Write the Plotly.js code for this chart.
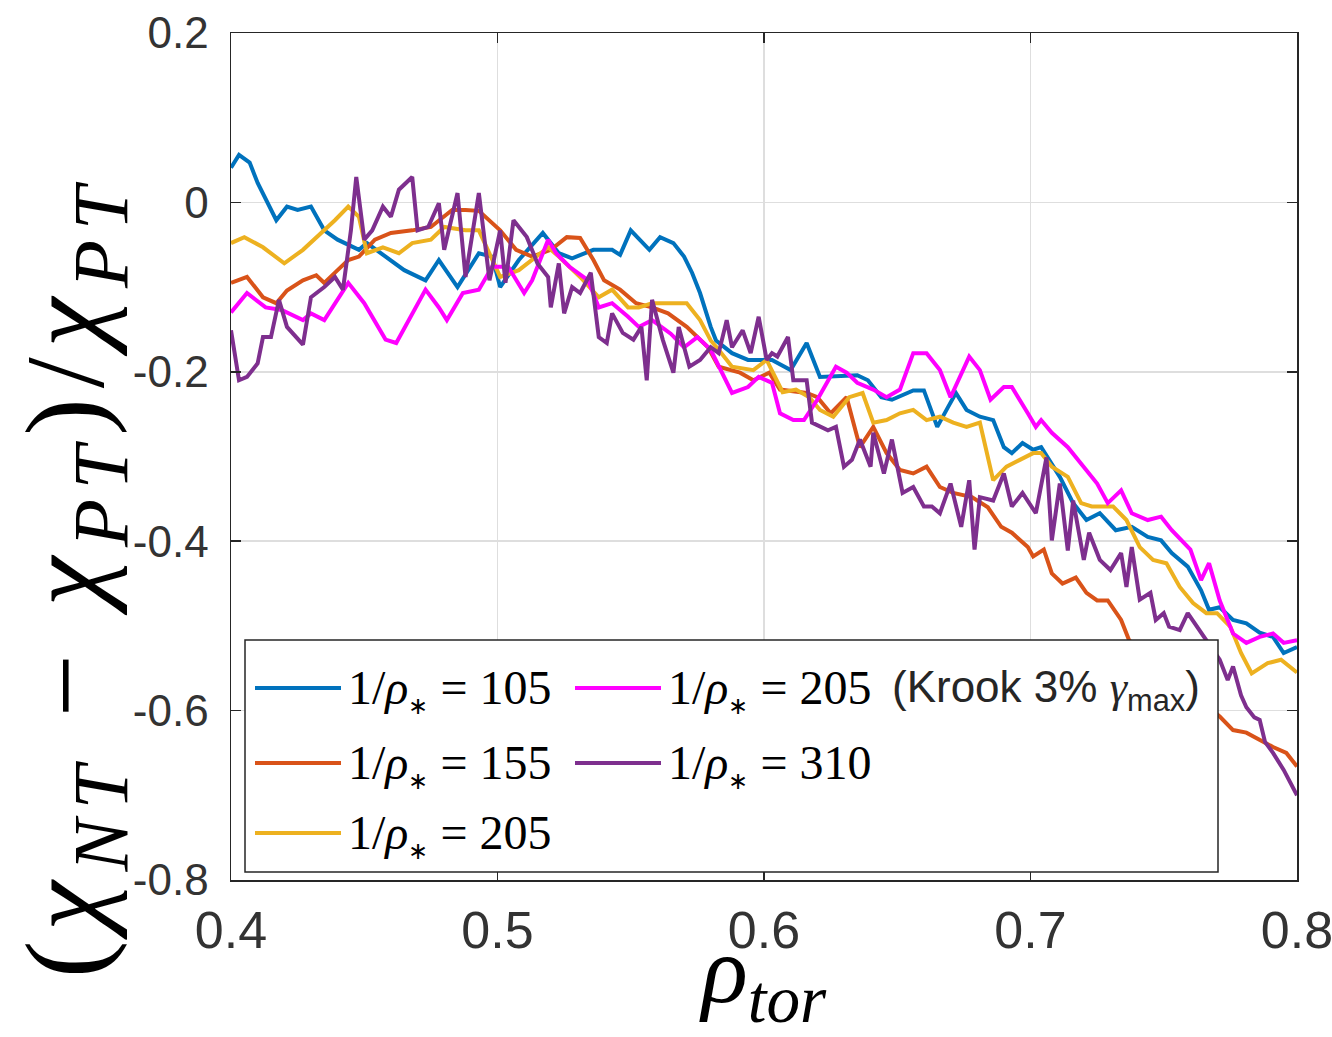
<!DOCTYPE html>
<html>
<head>
<meta charset="utf-8">
<script src="https://cdn.plot.ly/plotly-3.0.1.min.js"></script>
<style>
  html, body { margin: 0; padding: 0; background: #ffffff; }
  #chart { width: 1332px; height: 1037px; }
</style>
</head>
<body>
<div id="chart"></div>
<script>
// Relative heat diffusivity difference, negative vs positive triangularity,
// against toroidal radius for several values of 1/rho_*.

// 1/rho_* = 105
const rho105 = [0.400,0.403,0.407,0.410,0.417,0.421,0.425,0.430,0.435,0.440,0.448,0.451,0.465,0.473,0.478,0.485,0.493,0.498,0.501,0.508,0.517,0.523,0.528,0.536,0.543,0.546,0.550,0.557,0.561,0.566,0.570,0.573,0.576,0.580,0.582,0.588,0.594,0.603,0.610,0.616,0.621,0.635,0.639,0.644,0.648,0.656,0.660,0.665,0.669,0.672,0.676,0.681,0.686,0.690,0.693,0.697,0.701,0.704,0.711,0.716,0.721,0.726,0.732,0.738,0.744,0.749,0.753,0.759,0.764,0.767,0.771,0.776,0.781,0.786,0.791,0.795,0.800];
const chi105 = [0.041,0.056,0.047,0.023,-0.021,-0.005,-0.009,-0.005,-0.033,-0.044,-0.056,-0.048,-0.080,-0.092,-0.068,-0.100,-0.060,-0.064,-0.100,-0.068,-0.036,-0.060,-0.066,-0.056,-0.056,-0.062,-0.033,-0.056,-0.041,-0.048,-0.064,-0.083,-0.107,-0.147,-0.163,-0.178,-0.186,-0.186,-0.198,-0.166,-0.206,-0.204,-0.210,-0.230,-0.233,-0.222,-0.222,-0.265,-0.242,-0.225,-0.245,-0.253,-0.257,-0.289,-0.296,-0.284,-0.292,-0.289,-0.324,-0.355,-0.375,-0.367,-0.387,-0.383,-0.395,-0.399,-0.414,-0.430,-0.458,-0.481,-0.478,-0.493,-0.497,-0.508,-0.513,-0.532,-0.525];

// 1/rho_* = 155
const rho155 = [0.400,0.406,0.412,0.417,0.421,0.427,0.432,0.435,0.440,0.444,0.448,0.454,0.460,0.468,0.475,0.483,0.488,0.493,0.501,0.507,0.513,0.520,0.526,0.531,0.536,0.540,0.546,0.552,0.558,0.564,0.571,0.579,0.583,0.591,0.596,0.602,0.606,0.616,0.620,0.625,0.631,0.636,0.641,0.646,0.651,0.656,0.661,0.666,0.671,0.678,0.684,0.689,0.693,0.699,0.701,0.705,0.708,0.712,0.717,0.721,0.725,0.729,0.734,0.737,0.771,0.776,0.781,0.786,0.791,0.796,0.800];
const chi155 = [-0.095,-0.088,-0.112,-0.119,-0.104,-0.092,-0.086,-0.095,-0.080,-0.068,-0.064,-0.044,-0.036,-0.033,-0.029,-0.009,-0.009,-0.010,-0.033,-0.056,-0.064,-0.056,-0.041,-0.042,-0.068,-0.092,-0.103,-0.119,-0.124,-0.131,-0.147,-0.171,-0.194,-0.201,-0.210,-0.201,-0.221,-0.225,-0.230,-0.249,-0.230,-0.289,-0.265,-0.296,-0.316,-0.320,-0.312,-0.336,-0.343,-0.348,-0.360,-0.383,-0.390,-0.407,-0.418,-0.410,-0.438,-0.450,-0.443,-0.461,-0.470,-0.470,-0.493,-0.517,-0.607,-0.623,-0.626,-0.635,-0.643,-0.650,-0.666];

// 1/rho_* = 205
const rho205 = [0.400,0.405,0.412,0.420,0.427,0.434,0.439,0.444,0.448,0.451,0.457,0.463,0.468,0.475,0.480,0.488,0.493,0.501,0.508,0.519,0.523,0.531,0.538,0.543,0.549,0.553,0.558,0.564,0.571,0.576,0.580,0.583,0.588,0.596,0.601,0.607,0.612,0.617,0.621,0.626,0.632,0.637,0.641,0.646,0.651,0.656,0.661,0.666,0.671,0.676,0.681,0.686,0.691,0.696,0.701,0.704,0.708,0.714,0.719,0.723,0.731,0.736,0.741,0.746,0.751,0.756,0.761,0.766,0.770,0.775,0.779,0.783,0.789,0.794,0.800];
const chi205 = [-0.048,-0.041,-0.053,-0.072,-0.056,-0.036,-0.021,-0.005,-0.017,-0.060,-0.053,-0.060,-0.048,-0.044,-0.029,-0.033,-0.033,-0.088,-0.080,-0.053,-0.064,-0.088,-0.112,-0.103,-0.124,-0.124,-0.119,-0.119,-0.119,-0.139,-0.163,-0.174,-0.194,-0.198,-0.186,-0.224,-0.221,-0.230,-0.245,-0.253,-0.230,-0.225,-0.260,-0.257,-0.249,-0.245,-0.257,-0.253,-0.260,-0.265,-0.260,-0.328,-0.312,-0.304,-0.296,-0.296,-0.312,-0.324,-0.355,-0.359,-0.359,-0.375,-0.407,-0.422,-0.426,-0.454,-0.473,-0.485,-0.485,-0.501,-0.532,-0.556,-0.544,-0.540,-0.555];

// 1/rho_* = 205 with Krook operator (3% of gamma_max)
const rho205k = [0.400,0.406,0.413,0.419,0.427,0.430,0.435,0.440,0.444,0.450,0.458,0.462,0.468,0.473,0.478,0.481,0.487,0.493,0.498,0.504,0.510,0.513,0.519,0.522,0.527,0.534,0.538,0.543,0.549,0.553,0.558,0.565,0.570,0.575,0.580,0.583,0.588,0.594,0.598,0.603,0.606,0.611,0.615,0.620,0.627,0.631,0.635,0.641,0.646,0.651,0.656,0.661,0.666,0.670,0.677,0.681,0.685,0.690,0.693,0.699,0.702,0.704,0.708,0.714,0.720,0.725,0.729,0.734,0.738,0.744,0.749,0.753,0.760,0.764,0.767,0.771,0.776,0.781,0.786,0.791,0.795,0.800];
const chi205k = [-0.130,-0.107,-0.124,-0.127,-0.139,-0.131,-0.139,-0.115,-0.095,-0.119,-0.162,-0.166,-0.131,-0.103,-0.124,-0.139,-0.107,-0.103,-0.076,-0.076,-0.107,-0.092,-0.044,-0.060,-0.076,-0.092,-0.124,-0.119,-0.135,-0.147,-0.139,-0.155,-0.171,-0.159,-0.174,-0.194,-0.225,-0.218,-0.206,-0.213,-0.249,-0.257,-0.257,-0.233,-0.194,-0.201,-0.213,-0.221,-0.230,-0.221,-0.178,-0.178,-0.198,-0.230,-0.182,-0.198,-0.233,-0.218,-0.218,-0.249,-0.265,-0.257,-0.272,-0.289,-0.312,-0.332,-0.355,-0.340,-0.367,-0.375,-0.371,-0.387,-0.410,-0.446,-0.426,-0.470,-0.509,-0.520,-0.513,-0.509,-0.520,-0.517];

// 1/rho_* = 310
const rho310 = [0.400,0.403,0.406,0.410,0.412,0.415,0.418,0.421,0.427,0.430,0.435,0.439,0.442,0.444,0.445,0.447,0.450,0.453,0.457,0.460,0.463,0.468,0.470,0.474,0.478,0.480,0.483,0.485,0.488,0.493,0.497,0.501,0.503,0.506,0.511,0.515,0.519,0.520,0.523,0.525,0.528,0.531,0.535,0.538,0.541,0.543,0.547,0.551,0.554,0.556,0.558,0.562,0.566,0.568,0.572,0.576,0.580,0.583,0.586,0.588,0.592,0.595,0.598,0.601,0.603,0.605,0.609,0.611,0.616,0.618,0.624,0.627,0.630,0.633,0.636,0.640,0.641,0.645,0.648,0.652,0.656,0.660,0.663,0.666,0.670,0.674,0.677,0.679,0.681,0.686,0.690,0.693,0.697,0.701,0.702,0.706,0.708,0.711,0.714,0.716,0.720,0.722,0.726,0.730,0.734,0.736,0.738,0.741,0.745,0.747,0.750,0.752,0.756,0.759,0.771,0.774,0.776,0.779,0.781,0.784,0.786,0.788,0.791,0.795,0.797,0.800];
const chi310 = [-0.151,-0.210,-0.206,-0.190,-0.159,-0.159,-0.115,-0.147,-0.168,-0.112,-0.100,-0.088,-0.103,-0.056,-0.033,0.030,-0.044,-0.033,-0.005,-0.017,0.015,0.030,-0.033,-0.029,-0.001,-0.056,-0.017,0.011,-0.088,0.011,-0.092,-0.033,-0.095,-0.021,-0.041,-0.072,-0.088,-0.124,-0.072,-0.131,-0.100,-0.107,-0.083,-0.159,-0.166,-0.131,-0.154,-0.162,-0.147,-0.210,-0.115,-0.162,-0.201,-0.147,-0.194,-0.186,-0.171,-0.178,-0.139,-0.171,-0.151,-0.178,-0.135,-0.186,-0.178,-0.182,-0.159,-0.210,-0.210,-0.260,-0.269,-0.265,-0.312,-0.304,-0.280,-0.312,-0.272,-0.320,-0.280,-0.343,-0.336,-0.359,-0.359,-0.367,-0.332,-0.383,-0.328,-0.410,-0.348,-0.352,-0.320,-0.359,-0.343,-0.363,-0.367,-0.301,-0.399,-0.332,-0.411,-0.352,-0.422,-0.390,-0.422,-0.434,-0.414,-0.454,-0.407,-0.469,-0.461,-0.493,-0.485,-0.501,-0.505,-0.485,-0.540,-0.564,-0.548,-0.582,-0.596,-0.608,-0.611,-0.637,-0.650,-0.670,-0.682,-0.700];

// Axis ticks
const xTickVals = [0.4, 0.5, 0.6, 0.7, 0.8];
const xTickText = ['0.4', '0.5', '0.6', '0.7', '0.8'];
const yTickVals = [0.2, 0, -0.2, -0.4, -0.6, -0.8];
const yTickText = ['0.2', '0', '-0.2', '-0.4', '-0.6', '-0.8'];

// Series labels and colours
const star = '<sub><span style="font-size:24px">∗</span></sub>';
const seriesLabels = [
  '1/<i>ρ</i>' + star + ' = 105',
  '1/<i>ρ</i>' + star + ' = 155',
  '1/<i>ρ</i>' + star + ' = 205',
  '1/<i>ρ</i>' + star + ' = 205',
  '1/<i>ρ</i>' + star + ' = 310'
];
const krookNote = '(Krook 3% <span style="font-family:Liberation Serif"><i>γ</i></span><sub>max</sub>)';
const seriesColors = ['#0072BD', '#D95319', '#EDB120', '#FF00FF', '#7E2F8E'];

const xs = [rho105, rho155, rho205, rho205k, rho310];
const ys = [chi105, chi155, chi205, chi205k, chi310];

const traces = xs.map((x, i) => ({
  type: 'scatter',
  mode: 'lines',
  x: x,
  y: ys[i],
  name: seriesLabels[i],
  line: { color: seriesColors[i], width: 4 },
  showlegend: false,
  hoverinfo: 'x+y+name'
}));

// Plot-area geometry used to place the boxed key (in paper units)
const M = { l: 231, r: 35, t: 33, b: 157 };
const W = 1332, H = 1037;
const pw = W - M.l - M.r, ph = H - M.t - M.b;
const px = v => (v - M.l) / pw;
const py = v => (H - M.b - v) / ph;

// Key layout: [column x of sample start, row y] for each series
const keySlots = [
  [255, 688], [255, 763], [255, 833], [575, 688], [575, 763]
];
const sampleLen = 86;

const shapes = [{
  type: 'rect', xref: 'paper', yref: 'paper', layer: 'above',
  x0: px(245), x1: px(1218), y0: py(872), y1: py(640),
  fillcolor: '#ffffff', line: { color: '#262626', width: 1.5 }
}];
const annotations = [];
keySlots.forEach(([sx, sy], i) => {
  shapes.push({
    type: 'line', xref: 'paper', yref: 'paper', layer: 'above',
    x0: px(sx), x1: px(sx + sampleLen), y0: py(sy), y1: py(sy),
    line: { color: seriesColors[i], width: 4 }
  });
  annotations.push({
    xref: 'paper', yref: 'paper', x: px(sx + sampleLen + 5), y: py(sy + 2),
    xanchor: 'left', yanchor: 'middle', showarrow: false,
    text: seriesLabels[i],
    font: { family: 'Liberation Serif, Times New Roman, serif', size: 48, color: '#000000' }
  });
});
annotations.push({
  xref: 'paper', yref: 'paper', x: px(890), y: py(690),
  xanchor: 'left', yanchor: 'middle', showarrow: false,
  text: krookNote,
  font: { family: 'Liberation Sans, Arial, sans-serif', size: 44, color: '#262626' }
});

// Vertical axis label (letter-spaced, reads bottom to top)
annotations.push({
  xref: 'paper', yref: 'paper', x: px(73), y: py(577),
  xanchor: 'center', yanchor: 'middle', showarrow: false, textangle: -90,
  text: '<span style="letter-spacing:10px">(<i>χ</i><sub><i>NT</i></sub> − <i>χ</i><sub><i>PT</i></sub>)/<i>χ</i><sub><i>PT</i></sub></span>',
  font: { family: 'Liberation Serif, Times New Roman, serif', size: 112, color: '#000000' }
});

const axisCommon = {
  showline: true, linecolor: '#262626', linewidth: 1.5, mirror: 'ticks',
  ticks: 'inside', ticklen: 10, tickwidth: 1.5, tickcolor: '#262626',
  showgrid: true, gridcolor: '#dedede', gridwidth: 1.5, zeroline: false
};

const layout = {
  width: W, height: H,
  margin: M,
  paper_bgcolor: '#ffffff', plot_bgcolor: '#ffffff',
  showlegend: false,
  xaxis: Object.assign({}, axisCommon, {
    range: [0.4, 0.8], tickmode: 'array', tickvals: xTickVals, ticktext: xTickText,
    tickfont: { family: 'Liberation Sans, Arial, sans-serif', size: 52, color: '#333333' },
    ticklabelstandoff: 4,
    ticklabeloverflow: 'allow',
    title: {
      text: '<i>ρ</i><sub><i>tor</i></sub>',
      font: { family: 'Liberation Serif, Times New Roman, serif', size: 96, color: '#000000' },
      standoff: 5
    }
  }),
  yaxis: Object.assign({}, axisCommon, {
    range: [-0.8, 0.2], tickmode: 'array', tickvals: yTickVals, ticktext: yTickText,
    tickfont: { family: 'Liberation Sans, Arial, sans-serif', size: 44, color: '#333333' },
    ticklabelstandoff: 12
  }),
  shapes: shapes,
  annotations: annotations
};

Plotly.newPlot('chart', traces, layout, { displayModeBar: false, staticPlot: true });
</script>
</body>
</html>
